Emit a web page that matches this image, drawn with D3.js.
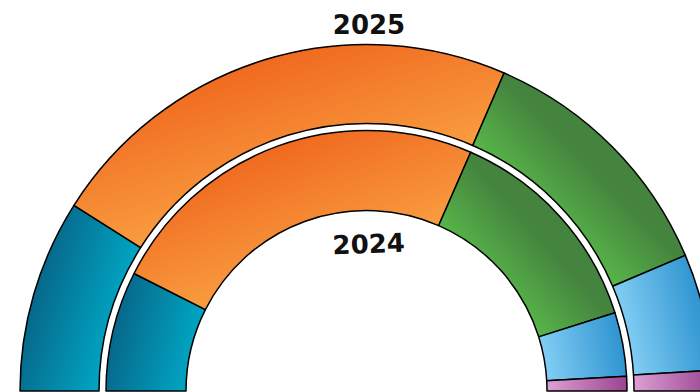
<!doctype html>
<meta charset="utf8">
<style>
  html, body { margin: 0; padding: 0; background: #fff; }
  svg { display: block; }
  .slice { stroke: #000; stroke-width: 1.5; stroke-linejoin: round; }
  .year { font-family: "DejaVu Sans", sans-serif; font-weight: bold; font-size: 26px; fill: #111; text-anchor: middle; }
</style>

<body>

<div id="chart"></div>

<script src="https://cdn.jsdelivr.net/npm/d3@7"></script>

<script>
(function() {

// categories, in order round the half ring from the left
const CATEGORIES = ["A", "B", "C", "D", "E"];

// share of each category, percent
const VALUES_2025 = [18.0, 45.0, 24.2, 10.9, 1.9];
const VALUES_2024 = [14.9, 48.2, 27.2, 7.9, 1.8];

const YEARS = ["2025", "2024"];

// inner (light) and outer (dark) colour of each category
const LIGHT = ["#00a6c4", "#f99d40", "#58b649", "#82cef4", "#dc9fd4"];
const DARK  = ["#07688a", "#f06a20", "#44843e", "#2f94d0", "#9a4590"];
// where the dark colour is reached along the gradient
const DARK_AT = ["100%", "100%", "70%", "100%", "100%"];

const WIDTH = 700;
const HEIGHT = 392;
const CX = 366.5;
const CY = 391;

const RINGS = [
  {year: YEARS[0], values: VALUES_2025, inner: 267.5, outer: 346.5, labelY: 34, tilt: 0},
  {year: YEARS[1], values: VALUES_2024, inner: 180.5, outer: 260.5, labelY: 253, tilt: -2},
];

const svg = d3.select("#chart").append("svg")
  .attr("width", WIDTH)
  .attr("height", HEIGHT);

const defs = svg.append("defs");
const g = svg.append("g").attr("transform", `translate(${CX},${CY})`);

const pie = d3.pie()
  .sort(null)
  .startAngle(-Math.PI / 2)
  .endAngle(Math.PI / 2);

const colorIndex = d3.scaleOrdinal().domain(CATEGORIES).range(d3.range(CATEGORIES.length));

// gradient runs outward along the slice's middle angle: light inside, dark outside.
// coordinates are in the user space of the ring group (already centred)
function gradientFor(id, slice, ring, i) {
  const mid = (slice.startAngle + slice.endAngle) / 2;
  const half = Math.min((slice.endAngle - slice.startAngle) / 2, Math.PI / 2);
  const ux = Math.sin(mid);
  const uy = -Math.cos(mid);
  const from = ring.inner * Math.cos(half);
  const to = ring.outer;

  const grad = defs.append("linearGradient")
    .attr("id", id)
    .attr("gradientUnits", "userSpaceOnUse")
    .attr("x1", ux * from)
    .attr("y1", uy * from)
    .attr("x2", ux * to)
    .attr("y2", uy * to);

  grad.append("stop").attr("offset", "0%").attr("stop-color", LIGHT[i]);
  grad.append("stop").attr("offset", DARK_AT[i]).attr("stop-color", DARK[i]);
}

RINGS.forEach((ring, r) => {
  const arc = d3.arc()
    .innerRadius(ring.inner)
    .outerRadius(ring.outer);

  const slices = pie(ring.values);

  slices.forEach((s, i) => gradientFor(`grad-${r}-${i}`, s, ring, colorIndex(CATEGORIES[i])));

  g.append("g")
    .attr("class", "ring")
    .selectAll("path")
    .data(slices)
    .join("path")
      .attr("class", "slice")
      .attr("d", arc)
      .attr("fill", (d, i) => `url(#grad-${r}-${i})`);
});

RINGS.forEach(ring => {
  svg.append("text")
    .attr("class", "year")
    .attr("transform", `translate(${CX + 2.5},${ring.labelY}) rotate(${ring.tilt})`)
    .text(ring.year);
});

})();
</script>
